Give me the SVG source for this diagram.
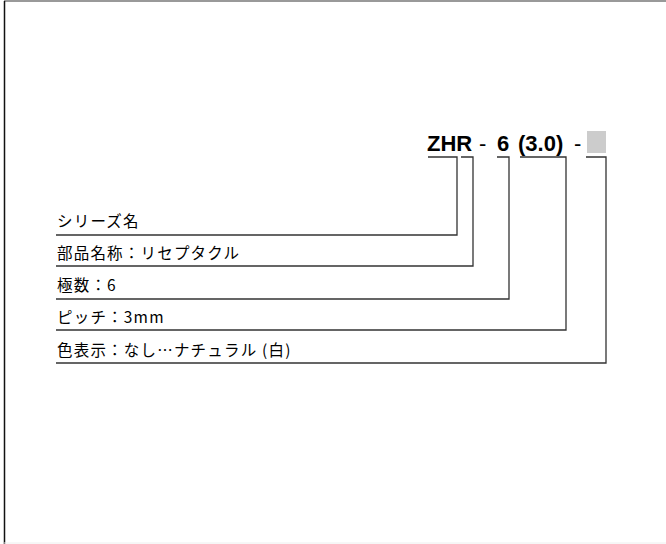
<svg xmlns="http://www.w3.org/2000/svg" width="666" height="544" viewBox="0 0 666 544">
<style>
.lbl{font-family:"Noto Sans CJK JP","Liberation Sans",sans-serif;font-size:15.5px;letter-spacing:1.2px;fill:#000}
.code{font-family:"Liberation Sans",Arial,sans-serif;font-size:22px;font-weight:bold;fill:#000}
.dash{font-family:"Liberation Sans",Arial,sans-serif;font-size:22px;fill:#000}
.ln{fill:none;stroke:#333;stroke-width:1.3}
</style>
<rect x="0" y="0" width="666" height="544" fill="#fff"/>
<line x1="4" y1="1" x2="666" y2="1" stroke="#999" stroke-width="2"/>
<line x1="4.5" y1="1" x2="4.5" y2="544" stroke="#111" stroke-width="1.5"/>
<line x1="4" y1="543" x2="666" y2="543" stroke="#eee" stroke-width="1"/>
<g id="code">
<text class="code" x="427" y="151">ZHR</text>
<text class="dash" x="479" y="151">-</text>
<text class="code" x="497" y="151">6</text>
<text class="code" x="518" y="151">(3.0)</text>
<text class="dash" x="574" y="151">-</text>
<rect x="587" y="131" width="19" height="22" fill="#ccc"/>
</g>
<g id="n1"><text class="lbl" x="57" y="227">シリーズ名</text></g>
<g id="n2"><text class="lbl" x="57" y="259">部品名称：リセプタクル</text></g>
<g id="n3"><text class="lbl" x="57" y="291">極数：6</text></g>
<g id="n4"><text class="lbl" x="57" y="323">ピッチ：3mm</text></g>
<g id="n5"><text class="lbl" x="57" y="356">色表示：なし…ナチュラル (白)</text></g>
<g id="connectors">
<polyline class="ln" points="428,157 457,157 457,235 56,235"/>
<polyline class="ln" points="461,157 473,157 473,266 56,266"/>
<polyline class="ln" points="497,157 509,157 509,299 56,299"/>
<polyline class="ln" points="520,157 566,157 566,330 56,330"/>
<polyline class="ln" points="586,157 606,157 606,363 56,363"/>
</g>
</svg>
